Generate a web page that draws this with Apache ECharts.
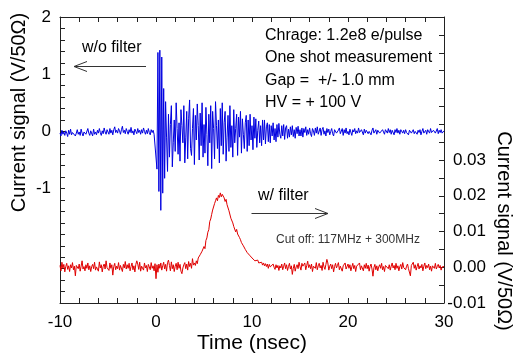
<!DOCTYPE html>
<html>
<head>
<meta charset="utf-8">
<script src="https://cdn.jsdelivr.net/npm/echarts@6/dist/echarts.min.js"></script>
<style>html,body{margin:0;padding:0;background:#fff}#c{width:513px;height:359px}</style>
</head>
<body>
<div id="c"></div>
<script>
// Sampling: start time and step (ns)
var T0 = -10;
var DT = 0.1;

// X axis ticks
var xMin = -10, xMax = 30, xInterval = 10;
// Left axis (w/o filter, V/50Ohm)
var yLeftMin = -3, yLeftMax = 2, yLeftInterval = 1, yLeftLabelMin = -1;
// Right axis (w/ filter, V/50Ohm)
var yRightMin = -0.01, yRightMax = 0.07, yRightInterval = 0.01, yRightLabelMax = 0.03;

// Unfiltered signal (blue), one value per 0.1 ns from -10 ns to 30 ns
var signalNoFilter = [
-0.03,-0.08,0.02,-0.05,-0.01,-0.07,0.01,-0.03,-0.09,0.02,
-0.05,0.04,-0.06,-0.02,-0.05,0.01,-0.08,-0.03,0.03,-0.05,
-0.01,-0.07,0.04,-0.03,-0.08,-0.01,0.02,-0.05,-0.02,0.05,
-0.03,-0.07,0.01,-0.02,-0.08,0.04,-0.05,-0.01,-0.06,0.02,
-0.03,0.05,-0.02,-0.07,0.01,-0.04,0.06,-0.01,-0.05,0.03,
0.00,-0.05,0.05,-0.03,0.02,-0.06,0.03,0.08,-0.02,0.02,
-0.03,0.05,0.01,-0.05,0.03,0.09,-0.02,0.02,-0.04,0.05,
0.00,-0.05,0.03,-0.02,0.07,-0.03,0.01,-0.06,0.04,0.00,
-0.04,0.05,-0.02,0.02,-0.05,0.03,-0.03,0.06,0.00,-0.05,
0.02,-0.04,0.05,-0.02,-0.06,0.03,-0.02,0.02,-0.05,-0.03,
-0.05,-0.66,1.38,-1.05,1.42,-1.38,1.30,-1.08,0.75,-0.82,
0.52,-0.10,-0.70,0.30,-0.45,0.12,0.45,-0.62,-0.20,0.20,
-0.35,0.50,0.05,-0.40,0.15,-0.52,0.38,0.10,-0.20,0.45,
-0.55,-0.10,0.35,-0.48,0.22,0.55,-0.30,-0.42,0.05,0.40,
-0.58,0.28,-0.15,0.48,0.10,-0.50,0.32,-0.25,0.50,-0.45,
0.12,-0.38,0.42,-0.05,-0.60,0.30,-0.20,0.45,-0.65,0.35,
0.05,-0.48,0.52,0.10,-0.30,0.20,-0.55,0.40,-0.25,0.50,
-0.40,0.15,0.35,-0.52,-0.10,0.28,-0.35,0.45,-0.28,0.10,
-0.45,0.38,-0.20,0.05,0.30,-0.42,0.25,-0.10,0.35,-0.38,
0.22,-0.05,-0.30,0.15,0.28,-0.35,0.20,-0.25,0.30,-0.15,
0.10,-0.32,0.25,-0.12,0.22,-0.28,0.02,0.18,-0.20,0.10,
-0.25,0.20,-0.15,0.20,-0.22,0.08,0.15,-0.18,0.12,-0.20,
0.10,-0.08,0.15,-0.15,0.05,-0.18,0.12,-0.10,0.14,-0.05,
-0.12,0.10,-0.08,0.12,-0.14,0.06,0.10,-0.12,0.04,-0.10,
0.08,-0.06,0.10,-0.09,0.03,-0.12,0.07,-0.04,0.09,-0.08,
0.03,-0.08,0.06,-0.10,0.05,-0.02,0.08,-0.07,0.03,-0.05,
0.06,-0.04,-0.09,0.05,0.01,-0.07,0.06,-0.03,0.08,-0.05,
-0.02,0.06,-0.07,0.03,0.07,-0.05,0.01,-0.08,0.05,-0.02,
0.04,-0.06,0.00,0.05,-0.04,-0.08,0.03,0.06,-0.03,-0.05,
0.02,0.06,-0.04,-0.01,0.05,-0.07,0.03,-0.03,0.06,-0.04,
0.00,-0.06,0.04,0.01,-0.07,0.03,-0.01,0.05,-0.04,0.01,
-0.03,0.06,-0.02,-0.05,0.03,0.00,-0.06,0.04,-0.03,0.02,
0.04,-0.04,0.00,0.03,-0.06,0.02,0.06,-0.03,-0.01,0.03,
-0.05,0.02,0.04,-0.03,0.00,-0.06,0.03,0.02,-0.05,0.03,
0.00,-0.03,0.05,-0.02,0.03,-0.05,0.02,0.00,-0.06,0.03,
-0.02,0.05,-0.03,0.02,-0.05,0.03,0.00,-0.03,0.02,-0.04,
0.03,-0.02,0.00,-0.06,0.02,0.05,-0.03,-0.01,0.03,-0.04,
0.00,0.03,-0.05,0.02,-0.02,0.03,-0.06,0.00,0.05,-0.03,
-0.02,0.02,-0.05,0.03,0.00,-0.03,0.05,-0.02,-0.04,0.02,
0.03,-0.03,0.00,0.05,-0.04,0.02,-0.02,0.03,-0.03,0.00,
0.01
];

// Filtered signal (red), one value per 0.1 ns from -10 ns to 30 ns
var signalFilter = [
0.0005,-0.0010,0.0014,-0.0003,0.0008,-0.0013,0.0002,0.0011,-0.0006,0.0004,
-0.0012,0.0007,-0.0002,0.0013,-0.0007,0.0003,-0.0024,0.0005,0.0001,-0.0004,
0.0009,-0.0011,0.0003,0.0018,-0.0005,0.0002,-0.0010,0.0007,-0.0003,0.0012,
-0.0007,0.0004,-0.0012,0.0002,0.0008,-0.0004,0.0014,-0.0008,0.0001,0.0005,
-0.0011,0.0015,-0.0002,0.0007,-0.0013,0.0003,0.0009,-0.0005,0.0018,-0.0001,
0.0004,-0.0009,0.0012,-0.0003,0.0007,-0.0022,0.0002,0.0011,-0.0007,0.0003,
-0.0004,0.0013,-0.0008,0.0005,0.0000,-0.0012,0.0008,-0.0002,0.0016,-0.0005,
0.0007,-0.0003,0.0011,-0.0010,0.0002,0.0012,-0.0007,0.0004,-0.0013,0.0008,
0.0018,0.0009,-0.0006,0.0014,-0.0011,0.0003,0.0007,-0.0008,0.0012,-0.0002,
0.0005,-0.0012,0.0008,0.0001,-0.0007,0.0013,-0.0003,0.0004,-0.0010,0.0010,
-0.0032,0.0007,-0.0014,0.0009,-0.0003,0.0012,-0.0008,0.0004,0.0014,-0.0005,
0.0008,-0.0011,0.0013,0.0020,0.0005,-0.0010,0.0015,-0.0004,0.0007,-0.0012,
0.0003,0.0011,-0.0007,0.0014,-0.0003,0.0008,-0.0011,-0.0018,-0.0002,0.0007,
0.0013,-0.0004,0.0009,-0.0008,0.0016,0.0002,0.0011,-0.0003,0.0024,0.0006,
0.0012,0.0005,0.0018,0.0010,0.0026,0.0022,0.0035,0.0030,0.0045,0.0042,
0.0058,0.0052,0.0075,0.0082,0.0098,0.0105,0.0128,0.0135,0.0148,0.0160,
0.0165,0.0178,0.0186,0.0194,0.0186,0.0201,0.0195,0.0208,0.0197,0.0204,
0.0199,0.0194,0.0184,0.0190,0.0175,0.0170,0.0158,0.0154,0.0137,0.0133,
0.0124,0.0114,0.0113,0.0099,0.0106,0.0093,0.0089,0.0083,0.0077,0.0069,
0.0066,0.0060,0.0056,0.0050,0.0046,0.0041,0.0044,0.0036,0.0032,0.0034,
0.0026,0.0024,0.0030,0.0018,0.0022,0.0015,0.0020,0.0012,0.0016,0.0008,
0.0014,0.0006,0.0012,0.0004,0.0010,0.0002,0.0009,-0.0003,0.0008,0.0001,
0.0006,-0.0004,0.0009,0.0000,-0.0006,0.0007,-0.0002,0.0005,-0.0009,0.0004,
-0.0002,0.0009,-0.0007,0.0003,0.0012,-0.0004,0.0007,-0.0009,0.0002,0.0011,
-0.0005,0.0004,-0.0020,-0.0003,0.0008,-0.0011,0.0001,0.0007,-0.0004,0.0014,
0.0002,-0.0008,0.0011,0.0003,-0.0002,0.0012,-0.0007,0.0005,0.0017,-0.0001,
0.0007,-0.0004,0.0009,-0.0012,0.0003,0.0008,-0.0003,0.0013,-0.0007,0.0004,
0.0011,-0.0002,0.0005,-0.0009,0.0014,0.0001,-0.0006,0.0008,0.0022,0.0012,
-0.0008,0.0003,0.0009,-0.0004,0.0007,-0.0013,0.0002,0.0011,-0.0002,0.0005,
0.0013,-0.0007,0.0003,0.0008,-0.0011,0.0004,-0.0001,0.0012,-0.0005,0.0002,
0.0009,-0.0003,0.0007,-0.0010,0.0001,0.0011,-0.0004,0.0005,-0.0012,0.0003,
0.0008,-0.0002,0.0012,-0.0007,0.0004,0.0001,-0.0010,0.0007,-0.0003,0.0011,
-0.0004,0.0006,-0.0011,0.0002,0.0009,-0.0005,-0.0025,-0.0001,0.0008,-0.0007,
0.0004,-0.0010,0.0001,0.0007,-0.0003,0.0011,-0.0007,0.0002,-0.0012,0.0005,
0.0001,0.0009,-0.0004,0.0007,-0.0008,0.0003,0.0012,-0.0002,0.0005,-0.0007,
0.0011,-0.0003,0.0004,-0.0010,0.0002,0.0008,-0.0005,0.0013,-0.0001,0.0004,
-0.0007,0.0003,0.0009,-0.0004,0.0001,-0.0024,0.0005,0.0002,0.0014,-0.0003,
0.0007,-0.0008,0.0002,0.0011,-0.0005,0.0004,-0.0002,0.0008,-0.0010,0.0003,
0.0012,-0.0004,0.0005,-0.0001,0.0009,-0.0007,0.0003,-0.0011,0.0004,0.0007,
-0.0003,0.0011,-0.0005,0.0002,0.0008,-0.0002,0.0005,-0.0008,0.0001,0.0004,
0.0002
];

var axisName = 'Current signal (V/50\u03A9)';
var xName = 'Time (nsec)';
var infoLines = ['Chrage: 1.2e8 e/pulse', 'One shot measurement', 'Gap =  +/- 1.0 mm', 'HV = + 100 V'];

function toPairs(vals) {
  return vals.map(function (v, i) { return [+(T0 + i * DT).toFixed(2), v]; });
}

var FONT = '"Liberation Sans", Arial, sans-serif';
var AX = '#222';
var chart = echarts.init(document.getElementById('c'), null, {renderer: 'canvas'});

function xAxisCfg(pos, showLabel) {
  return {
    type: 'value', position: pos, min: xMin, max: xMax, interval: xInterval,
    axisLine: {show: true, onZero: false, lineStyle: {color: AX, width: 1}},
    axisTick: {show: true, inside: true, length: 5, lineStyle: {color: AX}},
    minorTick: {show: true, splitNumber: 5, length: 5, lineStyle: {color: AX}},
    splitLine: {show: false},
    axisLabel: {show: showLabel, color: '#000', fontSize: 17, fontFamily: FONT, margin: 11}
  };
}

var option = {
  animation: false,
  backgroundColor: '#fff',
  grid: {left: 60, right: 69, top: 17, bottom: 56, containLabel: false},
  xAxis: [xAxisCfg('bottom', true), xAxisCfg('top', false)],
  yAxis: [
    {
      type: 'value', position: 'left', min: yLeftMin, max: yLeftMax, interval: yLeftInterval,
      axisLine: {show: true, onZero: false, lineStyle: {color: AX, width: 1}},
      axisTick: {show: true, inside: true, length: 5, lineStyle: {color: AX}},
      minorTick: {show: true, splitNumber: 5, length: 5, lineStyle: {color: AX}},
      splitLine: {show: false},
      axisLabel: {color: '#000', fontSize: 17, fontFamily: FONT, margin: 9,
        formatter: function (v) { return v >= yLeftLabelMin ? String(v) : ''; }}
    },
    {
      type: 'value', position: 'right', min: yRightMin, max: yRightMax, interval: yRightInterval,
      axisLine: {show: true, onZero: false, lineStyle: {color: AX, width: 1}},
      axisTick: {show: true, inside: true, length: 5, lineStyle: {color: AX}},
      minorTick: {show: true, splitNumber: 2, length: 5, lineStyle: {color: AX}},
      splitLine: {show: false},
      axisLabel: {color: '#000', fontSize: 17, fontFamily: FONT, margin: 42, align: 'right',
        formatter: function (v) { return v <= yRightLabelMax + 1e-9 ? v.toFixed(2) : ''; }}
    }
  ],
  series: [
    {
      type: 'line', name: 'w/o filter', xAxisIndex: 0, yAxisIndex: 0,
      data: toPairs(signalNoFilter), showSymbol: false, symbol: 'none',
      lineStyle: {color: '#0000e0', width: 1}, silent: true
    },
    {
      type: 'line', name: 'w/ filter', xAxisIndex: 0, yAxisIndex: 1,
      data: toPairs(signalFilter), showSymbol: false, symbol: 'none',
      lineStyle: {color: '#e00000', width: 1}, silent: true
    }
  ],
  graphic: []
};

var g = [];
function txt(x, y, s, size, color, rot) {
  return {type: 'text', x: x, y: y, rotation: rot || 0, silent: true,
    style: {text: s, fontSize: size, fontFamily: FONT, fill: color || '#000',
      textAlign: rot ? 'center' : 'left', textVerticalAlign: 'middle'}};
}
function line(x1, y1, x2, y2) {
  return {type: 'line', silent: true, shape: {x1: x1, y1: y1, x2: x2, y2: y2},
    style: {stroke: '#333', lineWidth: 1}};
}
g.push(txt(19.5, 112.5, axisName, 20, '#000', Math.PI / 2));
g.push(txt(504, 231, axisName, 20, '#000', -Math.PI / 2));
g.push(txt(252, 343, xName, 21, '#000', 0));
g[g.length - 1].style.textAlign = 'center';
g.push(txt(82, 48, 'w/o filter', 16));
g.push(line(146, 66.5, 74, 66.5));
g.push(line(74, 66.5, 87, 61.5));
g.push(line(74, 66.5, 87, 71.5));
var infoY = [36, 58, 80.5, 102.5];
for (var i = 0; i < infoLines.length; i++) g.push(txt(265, infoY[i], infoLines[i], 16));
g.push(txt(258, 196, 'w/ filter', 16));
g.push(line(251.5, 213.5, 328, 213.5));
g.push(line(328, 213.5, 315, 208.5));
g.push(line(328, 213.5, 315, 218.5));
g.push(txt(276, 240, 'Cut off: 117MHz + 300MHz', 12, '#333'));
option.graphic = g;

chart.setOption(option);
</script>
</body>
</html>
